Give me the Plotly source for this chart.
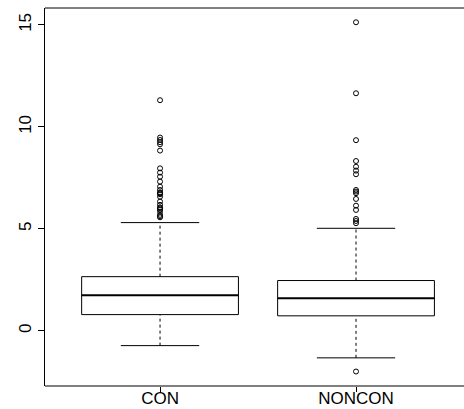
import plotly.graph_objects as go

groups = ["CON", "NONCON"]
positions = [1, 2]
q1 = [0.80, 0.74]
median = [1.75, 1.60]
q3 = [2.66, 2.47]
lower_whisker = [-0.72, -1.32]
upper_whisker = [5.31, 5.03]
outliers_con = [11.31, 9.48, 9.36, 9.25, 9.15, 8.84, 7.97, 7.76, 7.56, 7.32, 7.07,
                6.91, 6.78, 6.75, 6.70, 6.58, 6.34, 6.18, 6.05, 6.01, 5.95, 5.85,
                5.69, 5.62, 5.57]
outliers_noncon = [15.13, 11.65, 9.35, 8.33, 8.05, 7.86, 7.68, 6.91, 6.83, 6.75,
                   6.47, 6.14, 5.93, 5.49, 5.39, 5.28, -1.99]
outliers = [outliers_con, outliers_noncon]
y_ticks = [0, 5, 10, 15]

box_width = 0.8
cap_half = 0.2

fig = go.Figure()

for i, g in enumerate(groups):
    x0 = positions[i]
    xl, xr = x0 - box_width / 2, x0 + box_width / 2
    # whiskers (dashed)
    for a, b in [(q3[i], upper_whisker[i]), (lower_whisker[i], q1[i])]:
        fig.add_trace(go.Scatter(x=[x0, x0], y=[a, b], mode="lines",
                                 line=dict(color="black", width=1, dash="3px,3px"),
                                 hoverinfo="skip", showlegend=False))
    # caps
    for w in [upper_whisker[i], lower_whisker[i]]:
        fig.add_trace(go.Scatter(x=[x0 - cap_half, x0 + cap_half], y=[w, w], mode="lines",
                                 line=dict(color="black", width=1),
                                 hoverinfo="skip", showlegend=False))
    # box body
    fig.add_trace(go.Scatter(x=[xl, xr, xr, xl, xl],
                             y=[q1[i], q1[i], q3[i], q3[i], q1[i]], mode="lines",
                             line=dict(color="black", width=1),
                             name=g, showlegend=False))
    # median
    fig.add_trace(go.Scatter(x=[xl, xr], y=[median[i], median[i]], mode="lines",
                             line=dict(color="black", width=2),
                             hoverinfo="skip", showlegend=False))
    # outliers
    fig.add_trace(go.Scatter(x=[x0] * len(outliers[i]), y=outliers[i], mode="markers",
                             marker=dict(symbol="circle-open", size=5,
                                         color="black", line=dict(width=1, color="black")),
                             showlegend=False))

fig.update_layout(
    width=464, height=409,
    margin=dict(l=45, r=0, t=8, b=23, autoexpand=False),
    paper_bgcolor="white", plot_bgcolor="white",
    font=dict(family="Liberation Sans, Arial, sans-serif", size=17, color="black"),
    showlegend=False,
)
fig.update_xaxes(range=[0.413, 2.551], tickvals=positions, ticktext=groups,
                 automargin=False, ticklabelstandoff=-8,
                 showgrid=False, zeroline=False, showline=False,
                 ticks="outside", ticklen=5,
                 tickcolor="black", tickfont=dict(size=17))
fig.update_yaxes(range=[-2.70, 15.83], tickvals=y_ticks, ticktext=[str(t) for t in y_ticks],
                 tickangle=-90, automargin=False,
                 showgrid=False, zeroline=False, showline=True, mirror=False,
                 linecolor="black", linewidth=1, ticks="outside", ticklen=6,
                 tickcolor="black", tickfont=dict(size=17))
# top and bottom frame lines (the right frame edge lies just outside the window)
for yy in [0, 1]:
    fig.add_shape(type="line", xref="paper", yref="paper", x0=0, x1=1.02, y0=yy, y1=yy,
                  line=dict(color="black", width=1))

fig.write_html("out.html")
